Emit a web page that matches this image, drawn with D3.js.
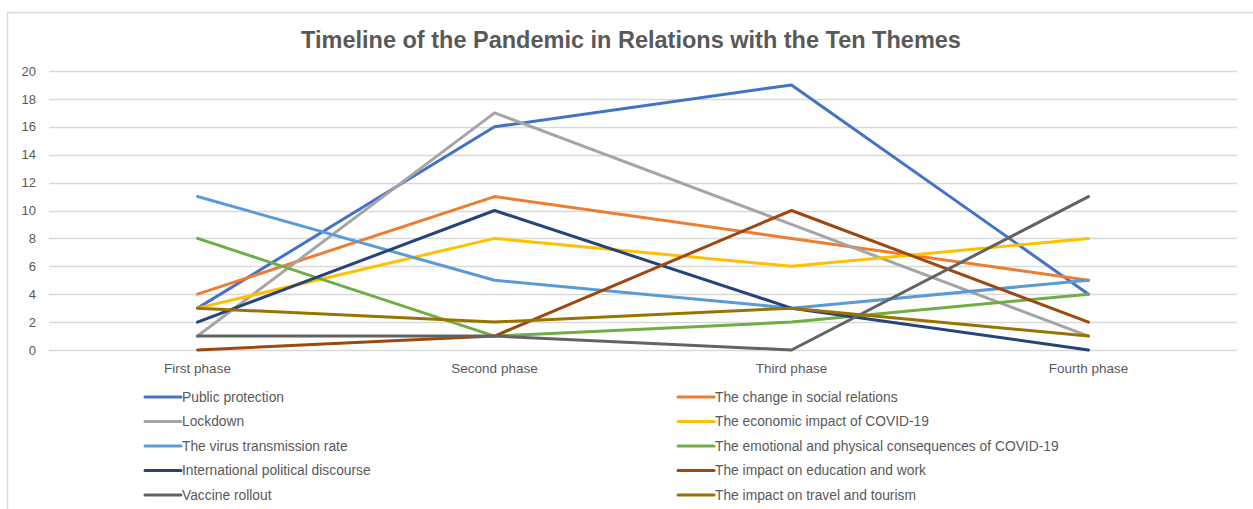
<!DOCTYPE html>
<html>
<head>
<meta charset="utf-8">
<script src="https://cdn.jsdelivr.net/npm/d3@7"></script>
<style>
  html, body { margin: 0; padding: 0; background: #fff; }
  svg { display: block; }
  text { font-family: "Liberation Sans", "DejaVu Sans", sans-serif; }
</style>
</head>
<body>
<svg id="chart" width="1253" height="509"></svg>
<script>
// Phases along the timeline
const phases = ["First phase", "Second phase", "Third phase", "Fourth phase"];

// Theme names (legend order) and their colours
const themes = [
  "Public protection",
  "The change in social relations",
  "Lockdown",
  "The economic impact of COVID-19",
  "The virus transmission rate",
  "The emotional and physical consequences of COVID-19",
  "International political discourse",
  "The impact on education and work",
  "Vaccine rollout",
  "The impact on travel and tourism"
];
const themeColors = [
  "#4472C4", "#ED7D31", "#A5A5A5", "#FFC000", "#5B9BD5",
  "#70AD47", "#264478", "#9E480E", "#636363", "#997300"
];

// Counts per phase for each theme
const publicProtection      = [3, 16, 19, 4];
const socialRelations       = [4, 11, 8, 5];
const lockdown              = [1, 17, 9, 1];
const economicImpact        = [3, 8, 6, 8];
const transmissionRate      = [11, 5, 3, 5];
const emotionalPhysical     = [8, 1, 2, 4];
const politicalDiscourse    = [2, 10, 3, 0];
const educationWork         = [0, 1, 10, 2];
const vaccineRollout        = [1, 1, 0, 11];
const travelTourism         = [3, 2, 3, 1];

const seriesValues = [
  publicProtection, socialRelations, lockdown, economicImpact, transmissionRate,
  emotionalPhysical, politicalDiscourse, educationWork, vaccineRollout, travelTourism
];

// Y axis ticks
const yTicks = [0, 2, 4, 6, 8, 10, 12, 14, 16, 18, 20];

const svg = d3.select("#chart");
const textColor = "#595959";
const gridColor = "#D9D9D9";

// Chart frame (left and top edges visible)
svg.append("path")
  .attr("d", "M7.5,509 L7.5,12.5 L1253,12.5")
  .attr("fill", "none")
  .attr("stroke", gridColor)
  .attr("stroke-width", 1.5);

// Title
svg.append("text")
  .attr("x", 631)
  .attr("y", 48)
  .attr("text-anchor", "middle")
  .attr("font-size", 23.5)
  .attr("font-weight", "bold")
  .attr("fill", textColor)
  .text("Timeline of the Pandemic in Relations with the Ten Themes");

const plot = { left: 49, right: 1237, top: 71, bottom: 350 };

const x = d3.scaleBand()
  .domain(phases)
  .range([plot.left, plot.right]);

const y = d3.scaleLinear()
  .domain([0, 20])
  .range([plot.bottom, plot.top]);

// Horizontal gridlines
svg.append("g")
  .selectAll("line")
  .data(yTicks)
  .join("line")
  .attr("x1", plot.left)
  .attr("x2", plot.right)
  .attr("y1", d => Math.round(y(d)) + 0.5)
  .attr("y2", d => Math.round(y(d)) + 0.5)
  .attr("stroke", gridColor)
  .attr("stroke-width", 1.3);

// Y axis labels
const yAxis = d3.axisLeft(y).tickValues(yTicks).tickSize(0).tickPadding(0);
const yG = svg.append("g")
  .attr("transform", `translate(${plot.left - 13},0)`)
  .call(yAxis);
yG.select(".domain").remove();
yG.selectAll("text")
  .attr("font-size", 13)
  .attr("fill", textColor)
  .attr("font-family", "Liberation Sans, sans-serif");

// X axis labels
const xAxis = d3.axisBottom(x).tickSize(0).tickPadding(0);
const xG = svg.append("g")
  .attr("transform", `translate(0,${plot.bottom + 13})`)
  .call(xAxis);
xG.select(".domain").remove();
xG.selectAll("text")
  .attr("font-size", 13.5)
  .attr("fill", textColor)
  .attr("font-family", "Liberation Sans, sans-serif");

// Series lines
const line = d3.line()
  .x((d, i) => x(phases[i]) + x.bandwidth() / 2)
  .y(d => y(d));

svg.append("g")
  .selectAll("path")
  .data(seriesValues)
  .join("path")
  .attr("d", d => line(d))
  .attr("fill", "none")
  .attr("stroke", (d, i) => themeColors[i])
  .attr("stroke-width", 3)
  .attr("stroke-linejoin", "round")
  .attr("stroke-linecap", "round");

// Legend in two columns
const legendCols = [145, 678];
const legendTop = 397;
const legendStep = 24.5;
const legend = svg.append("g")
  .selectAll("g")
  .data(themes)
  .join("g")
  .attr("transform", (d, i) =>
    `translate(${legendCols[i % 2]},${legendTop + Math.floor(i / 2) * legendStep})`);

legend.append("line")
  .attr("x1", 0)
  .attr("x2", 36)
  .attr("y1", 0)
  .attr("y2", 0)
  .attr("stroke", (d, i) => themeColors[i])
  .attr("stroke-width", 3)
  .attr("stroke-linecap", "round");

legend.append("text")
  .attr("x", 37)
  .attr("y", 0)
  .attr("dy", "0.35em")
  .attr("font-size", 13.8)
  .attr("fill", textColor)
  .text(d => d);
</script>
</body>
</html>
